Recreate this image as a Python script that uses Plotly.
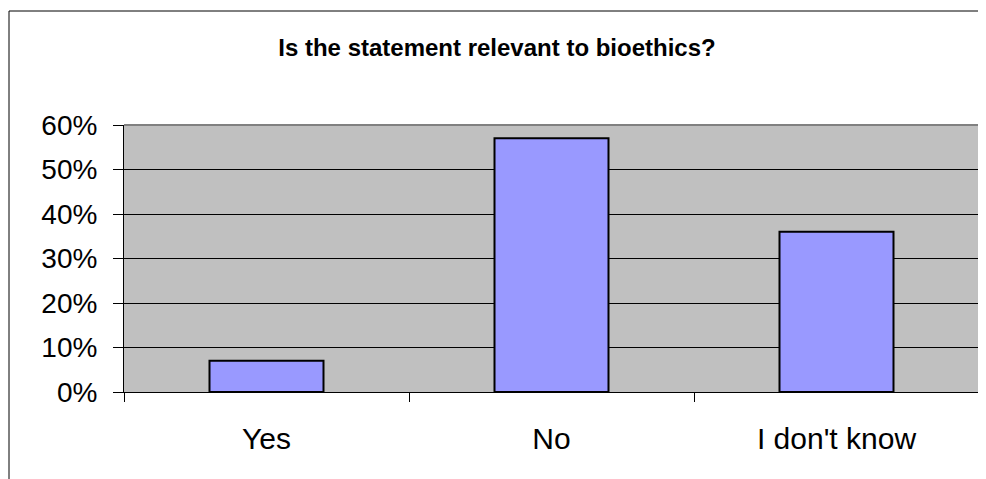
import plotly.graph_objects as go

categories = ["Yes", "No", "I don't know"]
values = [0.07, 0.57, 0.36]
y_ticks = [0, 0.1, 0.2, 0.3, 0.4, 0.5, 0.6]
y_tick_labels = ["0%", "10%", "20%", "30%", "40%", "50%", "60%"]
title_text = "Is the statement relevant to bioethics?"

# page has an 8px body margin; figure coordinates are page coordinates minus 8
W, H = 978, 471
L, R, T, B = 116, 7, 117, 87
pw, ph = W - L - R, H - T - B

def px(x):
    return (x - L) / pw

def py(y):
    return (H - B - y) / ph

fig = go.Figure(go.Bar(
    x=categories, y=values, width=0.4,
    marker=dict(color="#9999FF", line=dict(color="black", width=2)),
))

font = "Arial, Liberation Sans, sans-serif"
fig.update_layout(
    width=W, height=H,
    margin=dict(l=L, r=R, t=T, b=B),
    paper_bgcolor="white", plot_bgcolor="#C0C0C0",
    showlegend=False,
    font=dict(family=font, color="black"),
    title=dict(text="<b>" + title_text + "</b>", x=px(489), xref="paper", xanchor="center",
               y=1 - 40 / H, yanchor="middle", font=dict(size=24, family=font, color="black")),
    xaxis=dict(type="category", tickson="boundaries", ticks="outside", ticklen=9, tickwidth=1,
               tickcolor="black", showline=True, linecolor="black", linewidth=1,
               showgrid=False, tickfont=dict(size=30), ticklabelstandoff=20),
    yaxis=dict(range=[0, 0.6], tickvals=y_ticks, ticktext=y_tick_labels, ticks="outside",
               ticklen=10, tickwidth=1, tickcolor="black", showline=True, linecolor="black",
               linewidth=1, showgrid=True, gridcolor="black", gridwidth=1, zeroline=False,
               tickfont=dict(size=28), ticklabelstandoff=10),
    bargap=0.6,
)

shapes = [
    # chart outer border (left and top)
    dict(type="line", xref="paper", yref="paper", x0=px(1), x1=px(1), y0=py(3), y1=py(H + 20),
         line=dict(color="black", width=1)),
    dict(type="line", xref="paper", yref="paper", x0=px(1), x1=px(W + 20), y0=py(3), y1=py(3),
         line=dict(color="black", width=1)),
    # plot area grey border top and right
    dict(type="line", xref="paper", yref="paper", x0=0, x1=1, y0=1, y1=1,
         line=dict(color="#808080", width=2)),
    dict(type="line", xref="paper", yref="paper", x0=1, x1=1, y0=0, y1=1,
         line=dict(color="#808080", width=2)),
]
fig.update_layout(shapes=shapes)

fig.write_html("out.html")
